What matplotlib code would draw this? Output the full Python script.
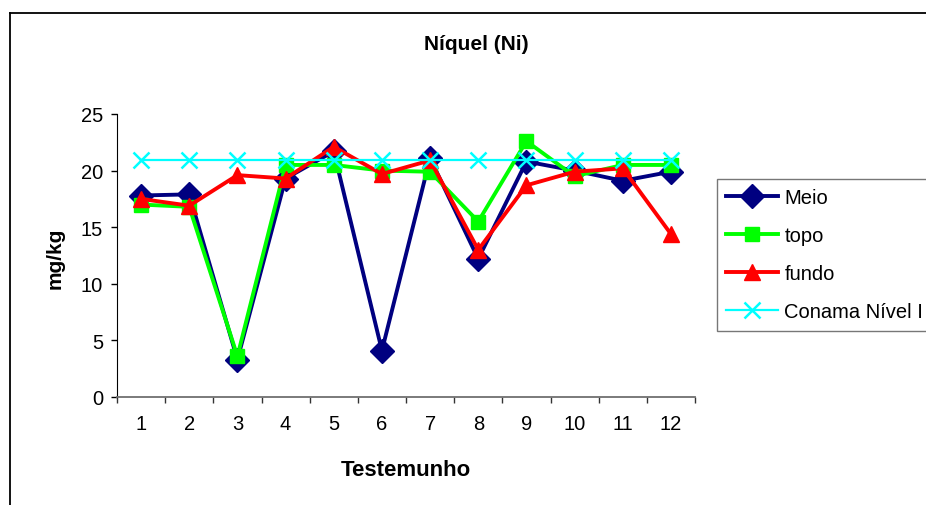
import matplotlib
matplotlib.use("Agg")
import matplotlib.pyplot as plt
from matplotlib.lines import Line2D

plt.rcParams['font.family'] = ['Liberation Sans', 'DejaVu Sans']

testemunho = [1, 2, 3, 4, 5, 6, 7, 8, 9, 10, 11, 12]
meio = [17.8, 17.9, 3.3, 19.3, 21.7, 4.1, 21.1, 12.2, 20.8, 20.0, 19.1, 19.9]
topo = [17.0, 16.8, 3.6, 20.5, 20.5, 20.0, 19.9, 15.5, 22.6, 19.5, 20.5, 20.5]
fundo = [17.5, 16.9, 19.6, 19.3, 22.1, 19.7, 20.9, 13.0, 18.7, 19.9, 20.2, 14.4]
conama = [20.9] * 12

W, H = 926, 506
fig = plt.figure(figsize=(W / 100, H / 100), dpi=100)
fig.patch.set_facecolor('white')

# chart frame (left and top edges visible, rest runs off the picture)
fig.add_artist(Line2D([10 / W, 10 / W], [-0.05, 1 - 14 / H], color='black', lw=1.3,
                      transform=fig.transFigure))
fig.add_artist(Line2D([10 / W, 1.05], [1 - 14 / H, 1 - 14 / H], color='black', lw=1.3,
                      transform=fig.transFigure))

ax = fig.add_axes([117 / W, 108 / H, 578 / W, 283 / H])

ax.plot(testemunho, meio, color='#000080', lw=2.8, marker='D', ms=12, label='Meio')
ax.plot(testemunho, topo, color='#00FF00', lw=2.8, marker='s', ms=9.5, label='topo')
ax.plot(testemunho, fundo, color='#FF0000', lw=2.8, marker='^', ms=12, label='fundo')
ax.plot(testemunho, conama, color='#00FFFF', lw=1.6, marker='x', ms=11, mew=1.8,
        label='Conama Nível I')

ax.set_xlim(0.5, 12.5)
ax.set_ylim(0, 25)
ax.set_yticks([0, 5, 10, 15, 20, 25])
ax.set_xticks([i + 0.5 for i in range(0, 13)])
ax.set_xticklabels([])
ax.set_xticks(testemunho, minor=True)
ax.set_xticklabels([str(t) for t in testemunho], minor=True)
ax.tick_params(axis='x', which='major', direction='out', length=4, width=1, color='#333333')
ax.tick_params(axis='x', which='minor', length=0, pad=12, labelsize=14.5)
ax.tick_params(axis='y', direction='out', length=4, width=1, pad=6, labelsize=14.5)

for s in ['top', 'right']:
    ax.spines[s].set_visible(False)
ax.spines['left'].set_color('black')
ax.spines['bottom'].set_color('#707070')
ax.spines['bottom'].set_linewidth(1.3)

fig.text(476 / W, 1 - 45 / H, 'Níquel (Ni)', ha='center', va='center',
         fontsize=15, fontweight='bold')
fig.text(406 / W, 1 - 471 / H, 'Testemunho', ha='center', va='center',
         fontsize=16, fontweight='bold')
fig.text(55 / W, 1 - 258 / H, 'mg/kg', ha='center', va='center', rotation=90,
         fontsize=15, fontweight='bold')

leg = ax.legend(loc='upper left', bbox_to_anchor=(717 / W, 1 - 180 / H),
                bbox_transform=fig.transFigure, frameon=True, fancybox=False,
                fontsize=14.5, handlelength=2.6, labelspacing=0.95,
                borderpad=0.45, handletextpad=0.3, borderaxespad=0)
leg.get_frame().set_edgecolor('#555555')
leg.get_frame().set_linewidth(1.0)

fig.savefig('out.png', dpi=100)
